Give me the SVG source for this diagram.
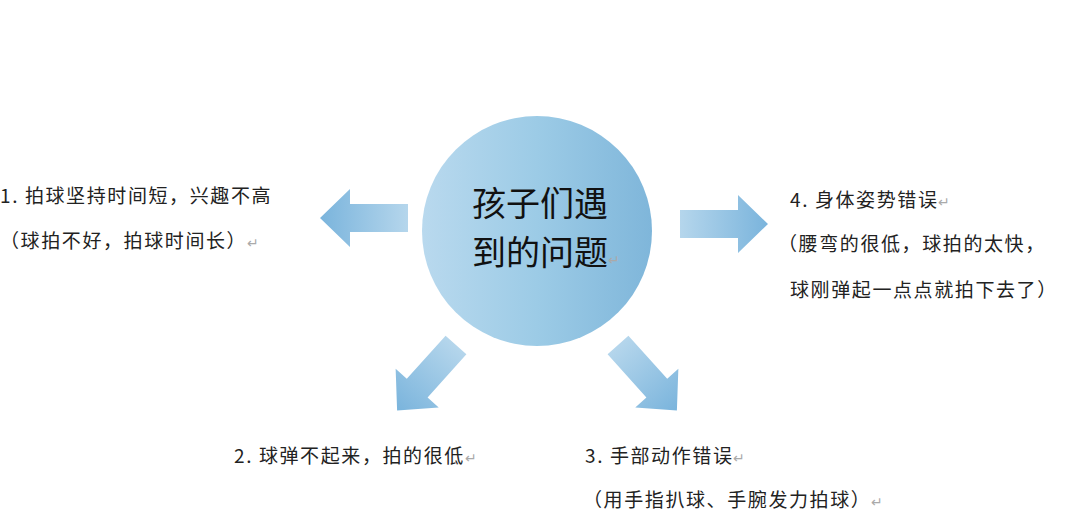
<svg xmlns="http://www.w3.org/2000/svg" width="1080" height="528" viewBox="0 0 1080 528">
<defs>
<linearGradient id="g" x1="0" y1="0" x2="1" y2="0"><stop offset="0" stop-color="#b9d9ee"/><stop offset="0.5" stop-color="#9ccbe6"/><stop offset="1" stop-color="#7fb6da"/></linearGradient>
<linearGradient id="ga" x1="0" y1="0" x2="1" y2="0"><stop offset="0" stop-color="#b5d6ec"/><stop offset="1" stop-color="#7ab4dc"/></linearGradient>
<path id="arr" d="M0,-14 H58 V-29 L88,0 L58,29 V14 H0 Z" fill="url(#ga)"/>
</defs>
<style>
text{font-family:"Noto Sans CJK SC","Liberation Sans",sans-serif;fill:#222;font-size:19px;letter-spacing:1.6px}
.c{font-size:34px;fill:#111;letter-spacing:0}
.r{fill:#aaa;font-size:14px}
</style>
<rect width="1080" height="528" fill="#fff"/>
<g id="center"><circle cx="537" cy="231" r="115" fill="url(#g)"/>
<text class="c" x="472" y="216">孩子们遇</text><text class="c" x="472" y="265">到的问题<tspan class="r">↵</tspan></text></g>
<g id="connectors">
<use href="#arr" transform="translate(408,218) rotate(180)"/>
<use href="#arr" transform="translate(680,224)"/>
<use href="#arr" transform="translate(456,345) rotate(132)"/>
<use href="#arr" transform="translate(618,345) rotate(48)"/>
</g>
<g id="n1"><text x="0" y="203">1. 拍球坚持时间短，兴趣不高</text><text x="0" y="248">（球拍不好，拍球时间长）<tspan class="r">↵</tspan></text></g>
<g id="n4"><text x="790" y="207">4. 身体姿势错误<tspan class="r">↵</tspan></text><text x="778" y="251">（腰弯的很低，球拍的太快，</text><text x="790" y="297">球刚弹起一点点就拍下去了）</text></g>
<g id="n2"><text x="234" y="463">2. 球弹不起来，拍的很低<tspan class="r">↵</tspan></text></g>
<g id="n3"><text x="585" y="463">3. 手部动作错误<tspan class="r">↵</tspan></text><text x="583" y="507">（用手指扒球、手腕发力拍球）<tspan class="r">↵</tspan></text></g>
</svg>
